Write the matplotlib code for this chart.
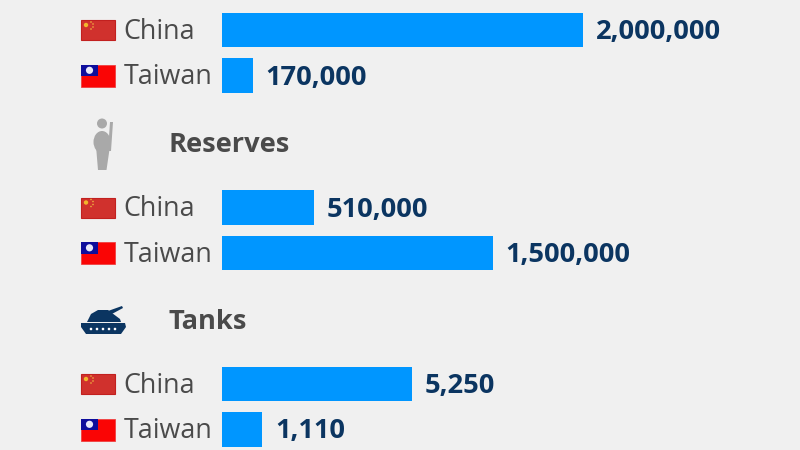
import matplotlib
matplotlib.use('Agg')
import matplotlib.pyplot as plt
from matplotlib.patches import Rectangle, Circle, Polygon, Ellipse

countries = ['China', 'Taiwan']
troops = [2000000, 170000]
reserves = [510000, 1500000]
tanks = [5250, 1110]
troops_labels = ['2,000,000', '170,000']
reserves_labels = ['510,000', '1,500,000']
tanks_labels = ['5,250', '1,110']

bg = '#f0f0f0'
blue = '#0096ff'
navy = '#0b3561'
grey = '#4a4a4a'

plt.rcParams['font.family'] = ['Open Sans', 'DejaVu Sans']

W, H = 800, 450
fig = plt.figure(figsize=(8, 4.5), dpi=100, facecolor=bg)

# overlay in pixel coords for flags, icons, headings
bgax = fig.add_axes([0, 0, 1, 1])
bgax.set_xlim(0, W)
bgax.set_ylim(H, 0)
bgax.axis('off')


def china_flag(y):
    bgax.add_patch(Rectangle((81, y - 10), 34, 20, fc='#d0312d', ec='#c2201f', lw=0.8))
    bgax.add_patch(Circle((86, y - 5), 2.2, fc='#f2b52c', ec='none'))
    for dx, dy in [(5, -3), (7, -1), (7, 2), (5, 4)]:
        bgax.add_patch(Circle((86 + dx, y - 5 + dy), 0.8, fc='#eeb040', ec='none'))


def taiwan_flag(y):
    bgax.add_patch(Rectangle((81, y - 11), 34, 22, fc='#fa0505', ec='#f04040', lw=0.6))
    bgax.add_patch(Rectangle((81, y - 11), 17, 11.5, fc='#0d0d9c', ec='none'))
    bgax.add_patch(Circle((89.5, y - 5.2), 3.6, fc='#e8e8fa', ec='none'))


def soldier():
    c = '#a9a9a9'
    bgax.add_patch(Circle((102, 123.5), 5, fc=c, ec='none'))
    bgax.add_patch(Ellipse((102, 142), 17, 22, fc=c, ec='none'))
    bgax.add_patch(Polygon([(96, 146), (110, 146), (106.5, 170), (98, 170)], fc=c, ec='none'))
    bgax.add_patch(Polygon([(110, 122), (113, 122), (111, 151), (108, 151)], fc=c, ec='none'))


def tank():
    bgax.add_patch(Polygon([(81, 323), (125, 323), (126, 327), (121, 334), (86, 334), (81, 327)], fc=navy, ec='none'))
    bgax.add_patch(Polygon([(87, 322), (91, 314), (98, 310), (108, 310), (120, 319), (121, 322)], fc=navy, ec='none'))
    bgax.add_patch(Polygon([(108, 311), (122, 306), (123, 308), (110, 315)], fc=navy, ec='none'))
    for x in [92, 98, 104, 110, 116]:
        bgax.add_patch(Circle((x - 1, 329), 1.3, fc='white', ec='none'))


soldier()
tank()
bgax.text(168.5, 145, 'Reserves', fontsize=19.6, fontweight='bold', color=grey, va='center')
bgax.text(168.5, 322, 'Tanks', fontsize=19.6, fontweight='bold', color=grey, va='center')

# one axes per group, each with its own value scale
groups = [
    (troops, troops_labels, 2000000, 30, 75.5),
    (reserves, reserves_labels, 2000000, 207.5, 253),
    (tanks, tanks_labels, 10000, 384, 429.5),
]
for values, labels, xmax, y1, y2 in groups:
    step = y2 - y1
    top = y1 - step / 2
    ax = fig.add_axes([222 / W, 1 - (top + 2 * step) / H, 361 / W, 2 * step / H])
    ax.set_xlim(0, xmax)
    ax.set_ylim(1.5, -0.5)
    ax.axis('off')
    ax.barh([0, 1], values, height=0.76, color=blue)
    for i, (v, lab) in enumerate(zip(values, labels)):
        ax.annotate(lab, (v, i), xytext=(13, -2), textcoords='offset pixels', fontsize=19.6,
                    fontweight='bold', color=navy, va='center', annotation_clip=False)
    china_flag(y1)
    taiwan_flag(y2)
    for name, y in zip(countries, [y1, y2]):
        bgax.text(123.5, y + 2, name, fontsize=19.4, color=grey, va='center')

fig.savefig('out.png', dpi=100, facecolor=bg)
